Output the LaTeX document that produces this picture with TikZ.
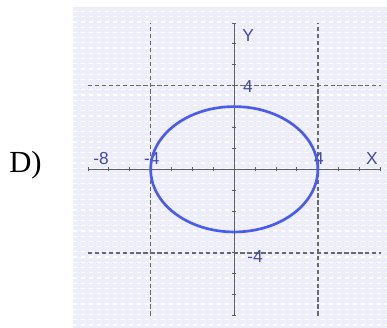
\documentclass[tikz,border=0pt]{standalone}
\usepackage{fontspec}
\setmainfont{Liberation Serif}
\setsansfont{Liberation Sans}
\definecolor{paper}{RGB}{238,238,251}
\definecolor{labelc}{RGB}{70,74,155}
\definecolor{axisc}{RGB}{95,95,95}
\definecolor{gridc}{RGB}{105,105,105}
\definecolor{curvec}{RGB}{72,92,238}
\begin{document}
\begin{tikzpicture}[x=0.551cm,y=0.551cm,
  axisline/.style={draw=axisc,line width=1.1pt},
  guide/.style={draw=gridc,line width=1.2pt,dash pattern=on 3.2pt off 2pt},
  ticklabel/.style={text=labelc,font=\sffamily\fontsize{13}{13}\selectfont,inner sep=0pt}]
\useasboundingbox (-11.21,-7.59) rectangle (7.31,8.10);
\fill[paper] (-7.72,-7.59) rectangle (7.31,7.77);
\foreach \k in {0,...,60} {
  \draw[white,line width=0.9pt,dash pattern=on 3pt off 3pt] (-7.72,-7.45+0.25*\k) -- (7.31,-7.45+0.25*\k);
}
\node[font=\fontsize{23}{23}\selectfont] (tag) at (-9.99,0.21) {D)};
\coordinate (xl) at (-7,0);
\coordinate (xr) at (7,0);
\coordinate (yb) at (0,-7);
\coordinate (yt) at (0,7);
\coordinate (hl1) at (-7,4);
\coordinate (hr1) at (7,4);
\coordinate (hl2) at (-7,-4);
\coordinate (hr2) at (7,-4);
\coordinate (vb1) at (-4,-7);
\coordinate (vt1) at (-4,7);
\coordinate (vb2) at (4,-7);
\coordinate (vt2) at (4,7);
\draw[guide] (hl1) -- (hr1);
\draw[guide] (hl2) -- (hr2);
\draw[guide] (vb1) -- (vt1);
\draw[guide] (vb2) -- (vt2);
\draw[axisline] (xl) -- (xr);
\draw[axisline] (yb) -- (yt);
\foreach \t in {-7,...,7} {
  \draw[axisc,line width=0.7pt] (\t,-0.1) -- (\t,0.1);
  \draw[axisc,line width=0.7pt] (-0.1,\t) -- (0.1,\t);
}
\node[ticklabel] (ylab) at (0.66,6.42) {Y};
\node[ticklabel] (xlab) at (6.59,0.49) {X};
\node[ticklabel] (yfour) at (0.66,3.94) {4};
\node[ticklabel] (ymfour) at (1.0,-4.19) {-4};
\node[ticklabel] (xmeight) at (-6.37,0.49) {-8};
\node[ticklabel] (xmfour) at (-3.94,0.49) {-4};
\node[ticklabel] (xfour) at (4.05,0.49) {4};
\draw[curvec,line width=2pt] (0,0) ellipse (4 and 3);
\end{tikzpicture}
\end{document}
